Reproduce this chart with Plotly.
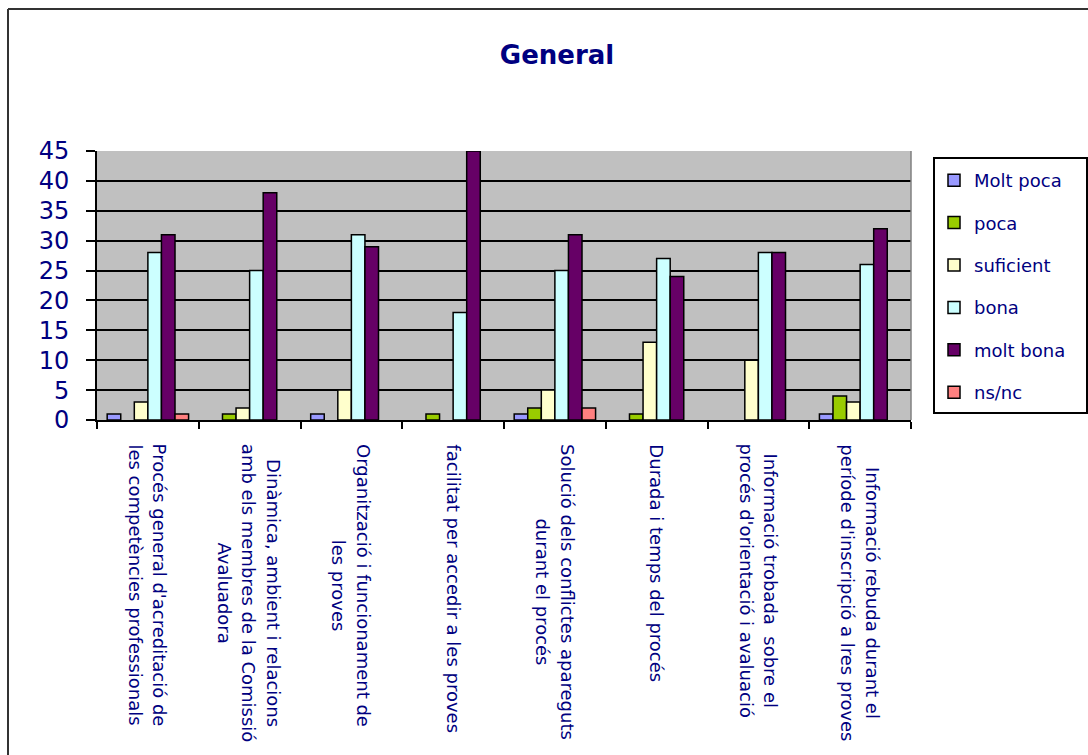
import plotly.graph_objects as go

# Survey categories (line breaks mark how each label wraps)
categories = [
    "Procés general d'acreditació de\nles competències professionals",
    "Dinàmica, ambient i relacions\namb els membres de la Comissió\nAvaluadora",
    "Organització i funcionament de\nles proves",
    "facilitat per accedir a les proves",
    "Solució dels conflictes apareguts\ndurant el procés",
    "Durada i temps del procés",
    "Informació trobada  sobre el\nprocés d'orientació i avaluació",
    "Informació rebuda durant el\nperíode d'inscripció a lres proves",
]

series_names = ["Molt poca", "poca", "suficient", "bona", "molt bona", "ns/nc"]

molt_poca = [1, 0, 1, 0, 1, 0, 0, 1]
poca = [0, 1, 0, 1, 2, 1, 0, 4]
suficient = [3, 2, 5, 0, 5, 13, 10, 3]
bona = [28, 25, 31, 18, 25, 27, 28, 26]
molt_bona = [31, 38, 29, 45, 31, 24, 28, 32]
ns_nc = [1, 0, 0, 0, 2, 0, 0, 0]

series_values = [molt_poca, poca, suficient, bona, molt_bona, ns_nc]
series_colors = ["#9999FF", "#99CC00", "#FFFFCC", "#CCFFFF", "#660066", "#FF8080"]

y_ticks = [0, 5, 10, 15, 20, 25, 30, 35, 40, 45]

NAVY = "#000080"
FONT = "DejaVu Sans"

# Plot-area placement in pixels
W, H = 1088, 755
L, R, T, B = 97, 911, 151, 420
pw, ph = R - L, B - T


def px_x(x):
    return (x - L) / pw


def px_y(y):
    return 1 - (y - T) / ph


keys = list(range(len(categories)))

fig = go.Figure()
for name, vals, col in zip(series_names, series_values, series_colors):
    fig.add_trace(go.Bar(
        name=name, x=keys,
        # empty answers draw no bar at all (no zero-height outline)
        y=[v if v else None for v in vals],
        marker=dict(color=col, line=dict(color="#000000", width=1.5)),
        legendgroup=name,
    ))

# Rotated category labels under the axis
for k, label in zip(keys, categories):
    lines = label.split("\n")
    text = "<br>".join(f"<span style='font-size:18px'>{ln}</span>" for ln in lines)
    fig.add_annotation(
        x=k, y=0, xref="x", yref="paper",
        text=text, textangle=90, showarrow=False,
        xanchor="center", yanchor="top", yshift=-22, align="center",
        font=dict(family=FONT, size=19, color=NAVY),
    )

shapes = [
    # chart frame (left and top edges)
    dict(type="line", xref="paper", yref="paper",
         x0=px_x(8), x1=px_x(8), y0=px_y(9), y1=px_y(760),
         line=dict(color="#333333", width=2)),
    dict(type="line", xref="paper", yref="paper",
         x0=px_x(8), x1=px_x(1095), y0=px_y(9), y1=px_y(9),
         line=dict(color="#333333", width=2)),
    # legend frame
    dict(type="rect", xref="paper", yref="paper",
         x0=px_x(934), x1=px_x(1087), y0=px_y(158), y1=px_y(413),
         line=dict(color="#000000", width=2), fillcolor="rgba(0,0,0,0)"),
    # plot-area border (right edge)
    dict(type="line", xref="paper", yref="paper",
         x0=1, x1=1, y0=0, y1=1, line=dict(color="#808080", width=1.5)),
]

fig.update_layout(
    width=W, height=H,
    margin=dict(l=L, r=W - R, t=T, b=H - B, pad=0),
    paper_bgcolor="#FFFFFF",
    plot_bgcolor="#C0C0C0",
    barmode="group", bargap=0.2, bargroupgap=0,
    title=dict(text="<b>General</b>", x=557 / W, xref="container", xanchor="center",
               y=1 - 55 / H, yref="container", yanchor="middle",
               font=dict(family=FONT, size=26, color=NAVY)),
    showlegend=True,
    legend=dict(
        x=px_x(934), y=px_y(162), xanchor="left", yanchor="top",
        font=dict(family=FONT, size=18, color=NAVY),
        bgcolor="rgba(0,0,0,0)", borderwidth=0,
        tracegroupgap=16, traceorder="grouped",
    ),
    shapes=shapes,
    xaxis=dict(
        type="linear", range=[-0.5, len(categories) - 0.5],
        tickvals=[k - 0.5 for k in keys] + [len(categories) - 0.5],
        showticklabels=False, ticks="outside", ticklen=7, tickwidth=1.5, tickcolor="#000000",
        showgrid=False, zeroline=False, showline=True, linecolor="#000000", linewidth=2,
        fixedrange=True,
    ),
    yaxis=dict(
        range=[0, 45], tickvals=y_ticks, ticks="outside", ticklen=9, tickwidth=1.5,
        tickcolor="#000000", ticklabelstandoff=12,
        tickfont=dict(family=FONT, size=24, color=NAVY),
        showgrid=True, gridcolor="#000000", gridwidth=2,
        zeroline=False, showline=True, linecolor="#000000", linewidth=2,
        fixedrange=True,
    ),
)

fig.write_html("out.html")
